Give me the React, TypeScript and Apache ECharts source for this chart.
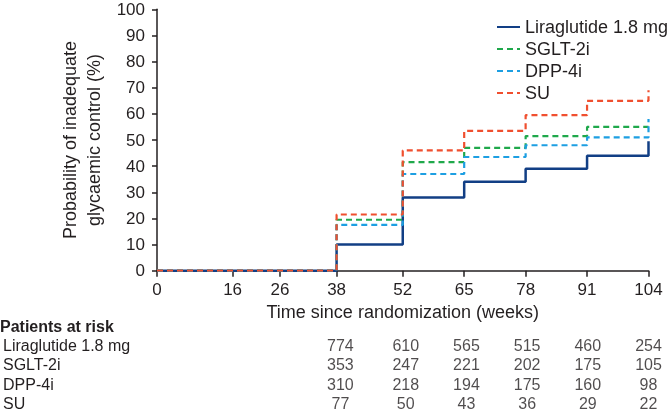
import React, { useEffect, useRef } from "react";
import * as echarts from "echarts";

const weeks = [0, 38, 52, 65, 78, 91, 104];
const liraglutide = [0, 10, 28, 34, 39, 44, 49.5];
const sglt2i = [0, 19.5, 41.5, 47, 51.5, 55, 55];
const dpp4i = [0, 17.5, 37, 43.5, 48, 51, 58];
const su = [0, 21.5, 46, 53.5, 59.5, 65, 69];

const xTicks = [0, 16, 26, 38, 52, 65, 78, 91, 104];
const riskWeeks = [38, 52, 65, 78, 91, 104];
const seriesNames = ["Liraglutide 1.8 mg", "SGLT-2i", "DPP-4i", "SU"];
const riskLiraglutide = [774, 610, 565, 515, 460, 254];
const riskSglt2i = [353, 247, 221, 202, 175, 105];
const riskDpp4i = [310, 218, 194, 175, 160, 98];
const riskSu = [77, 50, 43, 36, 29, 22];

const colors = ["#123f85", "#1fa84b", "#1d9fe2", "#f04f2f"];
const FONT = "'Liberation Sans', Arial, Helvetica, sans-serif";
const TEXT = "#231f20";

export default function App() {
  const ref = useRef<HTMLDivElement>(null);
  useEffect(() => {
    if (!ref.current) return;
    const chart = echarts.init(ref.current, null, { renderer: "svg" });
    const curves = [liraglutide, sglt2i, dpp4i, su];
    const risks = [riskLiraglutide, riskSglt2i, riskDpp4i, riskSu];
    const lineSeries = curves.map((vals, i) => ({
      name: seriesNames[i],
      type: "line",
      step: "end",
      xAxisIndex: 0,
      yAxisIndex: 0,
      symbol: "none",
      data: vals.map((v, j) => [weeks[j], v]),
      lineStyle: {
        color: colors[i],
        width: i === 0 ? 2.5 : 2.2,
        type: i === 0 ? "solid" : [6, 4],
      },
      itemStyle: { color: colors[i] },
      z: 2 + i,
    }));
    const riskSeries = risks.map((vals, i) => ({
      name: "risk" + i,
      type: "scatter",
      xAxisIndex: 1,
      yAxisIndex: 1,
      symbolSize: 1,
      itemStyle: { color: "rgba(0,0,0,0)" },
      data: vals.map((v, j) => [riskWeeks[j], i, v]),
      label: {
        show: true,
        position: "inside",
        formatter: (p: any) => String(p.value[2]),
        fontFamily: FONT,
        fontSize: 16,
        color: TEXT,
      },
    }));
    chart.setOption({
      animation: false,
      textStyle: { fontFamily: FONT },
      grid: [
        { left: 157, right: 20.5, top: 9.3, bottom: 143.3 },
        { left: 157, right: 20.5, top: 335.9, height: 77.1 },
      ],
      legend: {
        data: seriesNames,
        orient: "vertical",
        left: 491,
        top: 13,
        itemGap: 4,
        itemWidth: 23,
        itemHeight: 18,
        itemStyle: { opacity: 0 },
        textStyle: { fontSize: 18, color: TEXT, fontFamily: FONT },
      },
      xAxis: [
        {
          type: "value",
          gridIndex: 0,
          min: 0,
          max: 104,
          offset: 1.5,
          name: "Time since randomization (weeks)",
          nameLocation: "middle",
          nameGap: 27,
          nameTextStyle: { fontSize: 18, color: TEXT, fontFamily: FONT },
          axisLine: { show: true, lineStyle: { color: TEXT, width: 1.5 } },
          axisTick: { show: true, length: 6, customValues: xTicks, lineStyle: { color: TEXT, width: 1.5 } },
          axisLabel: { customValues: xTicks, fontSize: 17, color: TEXT, margin: 9, fontFamily: FONT },
          splitLine: { show: false },
        },
        { type: "value", gridIndex: 1, min: 0, max: 104, show: false },
      ],
      yAxis: [
        {
          type: "value",
          gridIndex: 0,
          min: 0,
          max: 100,
          interval: 10,
          name: "Probability of inadequate\nglycaemic control (%)",
          nameLocation: "middle",
          nameGap: 44,
          nameTextStyle: { fontSize: 18, color: TEXT, lineHeight: 24, fontFamily: FONT },
          axisLine: { show: true, lineStyle: { color: TEXT, width: 1.5 } },
          axisTick: { show: true, length: 5, lineStyle: { color: TEXT, width: 1.5 } },
          axisLabel: { fontSize: 17, color: TEXT, margin: 12, fontFamily: FONT },
          splitLine: { show: false },
        },
        {
          type: "category",
          gridIndex: 1,
          inverse: true,
          data: seriesNames,
          axisLine: { show: false },
          axisTick: { show: false },
          splitLine: { show: false },
          axisLabel: { interval: 0, align: "left", margin: 160, fontSize: 16, color: TEXT, fontFamily: FONT },
        },
      ],
      graphic: [
        {
          type: "text",
          left: 0,
          top: 318,
          style: { text: "Patients at risk", fontSize: 16, fontWeight: "bold", fill: TEXT, fontFamily: FONT },
        },
      ],
      series: [...lineSeries, ...riskSeries],
    });
    return () => chart.dispose();
  }, []);
  return <div ref={ref} style={{ position: "fixed", left: 0, top: 0, width: 669, height: 414 }} />;
}
